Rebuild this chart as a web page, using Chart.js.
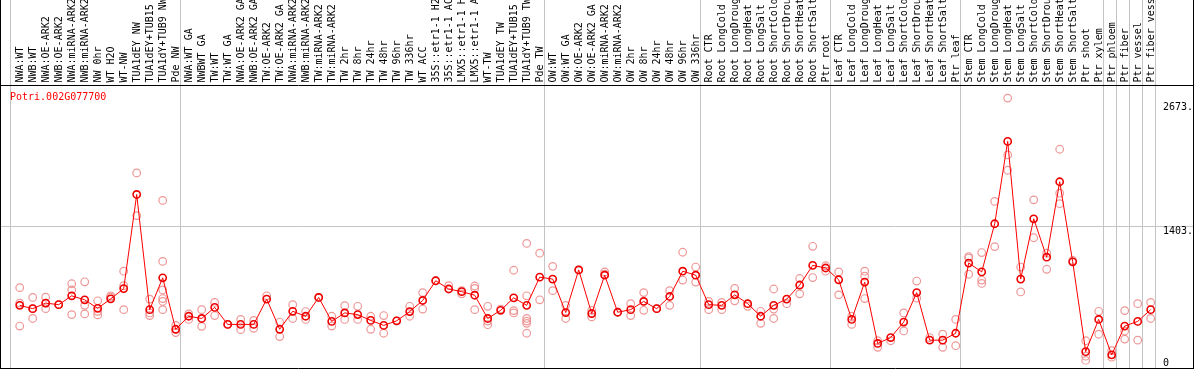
<!DOCTYPE html>
<html><head><meta charset="utf-8">
<script src="https://cdn.jsdelivr.net/npm/chart.js@4/dist/chart.umd.min.js"></script>
<style>html,body{margin:0;padding:0;background:#fff;}#wrap{width:1194px;height:370px;position:relative;}</style>
</head><body><div id="wrap"><canvas id="c" width="1194" height="370"></canvas></div>
<script>
const categories = [
 'NWA:WT','NWB:WT','NWA:OE-ARK2','NWB:OE-ARK2','NWA:miRNA-ARK2','NWB:miRNA-ARK2','NW 0hr','WT H2O','WT-NW',
 'TUA1dEY NW','TUA1dEY+TUB15 NW','TUA1dY+TUB9 NW','Pde NW',
 'NWA:WT GA','NWBWT GA','TW:WT','TW:WT GA','NWA:OE-ARK2 GA','NWB:OE-ARK2 GA','TW:OE-ARK2','TW:OE-ARK2 GA',
 'NWA:miRNA-ARK2 GA','NWB:miRNA-ARK2 GA','TW:miRNA-ARK2','TW:miRNA-ARK2 GA','TW 2hr','TW 8hr','TW 24hr','TW 48hr','TW 96hr','TW 336hr',
 'WT ACC','35S::etr1-1 H2O','35S::etr1-1 ACC','LMX5::etr1-1 H2O','LMX5::etr1-1 ACC','WT-TW','TUA1dEY TW','TUA1dEY+TUB15 TW','TUA1dY+TUB9 TW','Pde TW',
 'OW:WT','OW:WT GA','OW:OE-ARK2','OW:OE-ARK2 GA','OW:miRNA-ARK2','OW:miRNA-ARK2 GA','OW 2hr','OW 8hr','OW 24hr','OW 48hr','OW 96hr','OW 336hr',
 'Root CTR','Root LongCold','Root LongDrought','Root LongHeat','Root LongSalt','Root ShortCold','Root ShortDrought','Root ShortHeat','Root ShortSalt','Ptr root',
 'Leaf CTR','Leaf LongCold','Leaf LongDrought','Leaf LongHeat','Leaf LongSalt','Leaf ShortCold','Leaf ShortDrought','Leaf ShortHeat','Leaf ShortSalt','Ptr leaf',
 'Stem CTR','Stem LongCold','Stem LongDrought','Stem LongHeat','Stem LongSalt','Stem ShortCold','Stem ShortDrought','Stem ShortHeat','Stem ShortSalt',
 'Ptr shoot','Ptr xylem','Ptr phloem','Ptr fiber','Ptr vessel','Ptr fiber vessel'
];
const means = [
 587,553,610,594,685,644,556,654,759,1727,
 543,870,341,475,452,566,391,391,391,651,
 341,526,475,668,422,509,492,432,381,428,
 523,637,840,755,728,691,452,536,664,587,
 877,857,513,951,503,897,516,543,627,553,
 678,938,897,594,587,695,604,475,587,651,
 796,998,971,850,442,826,195,256,415,718,
 229,229,300,1022,931,1426,2273,857,1477,1082,
 1858,1035,111,442,78,374,422,543
];
const replicates = [
 [769,610,374],[668,452,553],[671,553,610],[594],[809,745,492],[829,587,499],[634,526,489],[685,671],[938,789,543],[1949,1510],
 [651,509,482],[1666,1039,745,657,627,543],[381,307],[499,442],[543,371],[617,482],[391],[442,337],[432,351],[685],
 [415,266],[594,452],[523,442],[668],[475,374],[584,442],[577,442],[475,341],[482,300],[428],
 [577,475],[718,549],[840],[789],[738,705],[786,762,543],[577,425,388],[549],[948,533,509],[1224,685,452,425,402,300],
 [1123,644],[988,738],[587,452],[951],[536,468],[931,907],[516],[604,482],[718,536],[553],
 [738,587],[1133,847],[981,826],[627,543],[617,543],[762,634],[577],[526,402],[755,549,452],[604],
 [863,705],[1194,873],[994,938],[931,695],[475,391],[938,887,657],[223,155],[223],[509,324],[837,661],
 [256],[290,155],[442,172],[1089,1075,907],[1130,847,812],[1656,1191],[2718,2134,1976],[981,725],[1672,1282],[1123,958],
 [2192,1740,1632],[1049],[223,64,20],[526,290],[121,54],[533,324,240],[604,229],[617,452]
];
const valueTicks = [0, 1403, 2673];
const valueTickLabels = ['0', '1403.', '2673.'];
const separatorsAfter = [12, 40, 52, 62, 72, 83, 84, 85, 86, 87];
const geneName = 'Potri.002G077700';

const MONO = '10px "DejaVu Sans Mono", "Liberation Mono", monospace';

const repPoints = [];
replicates.forEach((arr, i) => arr.forEach(v => repPoints.push({x: i, y: v})));
const meanPoints = means.map((v, i) => ({x: i, y: v}));

const decor = {
  id: 'decor',
  beforeDraw(chart) {
    const ctx = chart.ctx;
    ctx.save();
    ctx.fillStyle = '#fff';
    ctx.fillRect(0, 0, chart.width, chart.height);
    ctx.restore();
  },
  beforeDatasetsDraw(chart) {
    const ctx = chart.ctx, xs = chart.scales.x, ys = chart.scales.y;
    ctx.save();
    ctx.strokeStyle = '#c4c4c4';
    ctx.lineWidth = 1;
    const gy = Math.round(ys.getPixelForValue(valueTicks[1])) + 0.5;
    ctx.beginPath(); ctx.moveTo(0, gy); ctx.lineTo(chart.width, gy); ctx.stroke();
    const sepPos = [-0.72].concat(separatorsAfter.map(i => i + 0.354));
    sepPos.forEach(p => {
      const x = Math.round(xs.getPixelForValue(p)) + 0.5;
      ctx.beginPath(); ctx.moveTo(x, 0); ctx.lineTo(x, 369); ctx.stroke();
    });
    ctx.restore();
  },
  afterDraw(chart) {
    const ctx = chart.ctx, xs = chart.scales.x, ys = chart.scales.y;
    ctx.save();
    ctx.fillStyle = '#000';
    ctx.font = MONO;
    ctx.textAlign = 'left';
    ctx.textBaseline = 'middle';
    categories.forEach((lab, i) => {
      ctx.save();
      ctx.translate(Math.round(xs.getPixelForValue(i)) + 0.5, 82.5);
      ctx.rotate(-Math.PI / 2);
      ctx.fillText(lab, 0, 0);
      ctx.restore();
    });
    ctx.textBaseline = 'top';
    valueTicks.forEach((v, k) => {
      let y = ys.getPixelForValue(v);
      y = Math.min(y, 358.5);
      ctx.fillText(valueTickLabels[k], 1163, y);
    });
    ctx.fillStyle = '#ff0000';
    ctx.textBaseline = 'middle';
    ctx.fillText(geneName, 10, 97);
    ctx.strokeStyle = '#000';
    ctx.lineWidth = 1;
    ctx.beginPath();
    ctx.moveTo(0.5, 0); ctx.lineTo(0.5, 369);
    ctx.moveTo(0, 85.5); ctx.lineTo(1194, 85.5);
    ctx.moveTo(0, 368.5); ctx.lineTo(1194, 368.5);
    ctx.moveTo(1193.5, 0); ctx.lineTo(1193.5, 369);
    ctx.stroke();
    ctx.restore();
  }
};

new Chart(document.getElementById('c'), {
  type: 'line',
  data: {
    datasets: [
      {
        type: 'scatter',
        data: repPoints,
        showLine: false,
        pointRadius: 3.8,
        pointBorderWidth: 1.2,
        pointBorderColor: 'rgba(236,140,140,0.9)',
        pointBackgroundColor: 'rgba(0,0,0,0)',
        order: 2
      },
      {
        type: 'line',
        data: meanPoints,
        borderColor: '#ff0000',
        borderWidth: 1,
        tension: 0,
        pointRadius: 3.6,
        pointBorderWidth: 1.6,
        pointBorderColor: '#ee0000',
        pointBackgroundColor: 'rgba(0,0,0,0)',
        order: 1
      }
    ]
  },
  options: {
    responsive: false,
    animation: false,
    devicePixelRatio: 1,
    layout: { padding: { left: 6.7, right: 30.3, top: 86, bottom: 1 } },
    plugins: { legend: { display: false }, tooltip: { enabled: false } },
    scales: {
      x: { type: 'linear', min: -1, max: 88, display: false },
      y: { type: 'linear', min: -20.2, max: 2842.4, display: false }
    }
  },
  plugins: [decor]
});
</script>
</body></html>
